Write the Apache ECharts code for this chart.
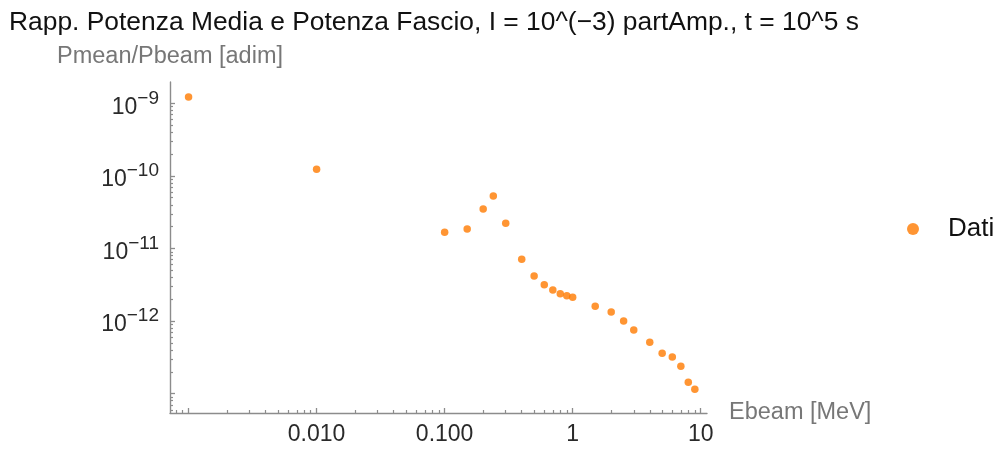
<!DOCTYPE html>
<html>
<head>
<meta charset="utf-8">
<title>Pmean/Pbeam</title>
<script src="https://cdn.jsdelivr.net/npm/echarts@6/dist/echarts.min.js"></script>
<style>
  html, body { margin: 0; padding: 0; background: #fff; }
  #chart { width: 993px; height: 450px; }
</style>
</head>
<body>
<div id="chart"></div>
<script>
// dati
var energy = [0.001, 0.01, 0.1, 0.15, 0.2, 0.24, 0.3, 0.4, 0.5, 0.6, 0.7, 0.8, 0.9, 1,
  1.5, 2, 2.5, 3, 4, 5, 6, 7, 8, 9];
var ratio = [1.22e-9, 1.23e-10, 1.67e-11, 1.86e-11, 3.50e-11, 5.29e-11, 2.22e-11, 7.10e-12,
  4.18e-12, 3.17e-12, 2.68e-12, 2.38e-12, 2.24e-12, 2.13e-12, 1.60e-12, 1.33e-12,
  1.00e-12, 7.54e-13, 5.10e-13, 3.60e-13, 3.21e-13, 2.38e-13, 1.44e-13, 1.15e-13];

// tacche
var xMajor = [0.001, 0.01, 0.1, 1, 10];
var xLabels = [0.01, 0.1, 1, 10];
var yMajor = [1e-9, 1e-10, 1e-11, 1e-12, 1e-13];
var yLabels = [1e-9, 1e-10, 1e-11, 1e-12];

var xMin = 7.16e-4, xMax = 11.2;
var yMin = 5.42e-14, yMax = 1.965e-9;

// minor ticks 2..9 per decade
function minors(decades, lo, hi) {
  var out = [];
  decades.forEach(function (d) {
    for (var k = 2; k <= 9; k++) {
      var v = +(d * k).toPrecision(3);
      if (v >= lo && v <= hi) out.push(v);
    }
  });
  return out;
}
var xMinor = minors([1e-4, 1e-3, 1e-2, 1e-1, 1, 10], xMin, xMax);
var yMinor = minors([1e-14, 1e-13, 1e-12, 1e-11, 1e-10, 1e-9], yMin, yMax);

var font = "'Liberation Sans', Arial, sans-serif";
var axisGray = "#8c8c8c";

var chart = echarts.init(document.getElementById("chart"));

var points = energy.map(function (e, i) { return [e, ratio[i]]; });

function baseAxis(min, max) {
  return {
    type: "log",
    logBase: 10,
    min: min,
    max: max,
    splitLine: { show: false },
    minorTick: { show: false }
  };
}

var xMain = Object.assign(baseAxis(xMin, xMax), {
  position: "bottom",
  name: "Ebeam [MeV]",
  nameLocation: "end",
  nameGap: 22,
  nameTextStyle: { color: "#777", fontSize: 23.5, fontFamily: font },
  axisLine: { lineStyle: { color: axisGray, width: 1.4 } },
  axisTick: { inside: true, length: 5, customValues: xMajor, lineStyle: { color: axisGray, width: 1.3 } },
  axisLabel: {
    customValues: xLabels,
    margin: 10,
    color: "#2a2a2a",
    fontSize: 23,
    fontFamily: font,
    formatter: function (v) { return v < 1 ? v.toFixed(3) : String(Math.round(v)); }
  }
});
var xSub = Object.assign(baseAxis(xMin, xMax), {
  position: "bottom",
  axisLine: { show: false },
  axisTick: { inside: true, length: 3, customValues: xMinor, lineStyle: { color: axisGray, width: 1.2 } },
  axisLabel: { show: false }
});

var yMain = Object.assign(baseAxis(yMin, yMax), {
  position: "left",
  name: "Pmean/Pbeam [adim]",
  nameLocation: "end",
  nameGap: 13,
  nameTextStyle: { color: "#777", fontSize: 23.5, fontFamily: font },
  axisLine: { show: true, lineStyle: { color: axisGray, width: 1.4 } },
  axisTick: { show: true, inside: true, length: 5, customValues: yMajor, lineStyle: { color: axisGray, width: 1.3 } },
  axisLabel: {
    customValues: yLabels,
    margin: 11,
    color: "#2a2a2a",
    fontFamily: font,
    formatter: function (v) {
      var ex = Math.round(Math.log10(v));
      return "{b|10}{e|\u2212" + (-ex) + "}";
    },
    rich: {
      b: { fontSize: 23, fontFamily: font, color: "#2a2a2a", padding: [8, 0, 0, 0] },
      e: { fontSize: 19, fontFamily: font, color: "#2a2a2a", padding: [0, 0, 10, 0] }
    }
  }
});
var ySub = Object.assign(baseAxis(yMin, yMax), {
  position: "left",
  axisLine: { show: false },
  axisTick: { show: true, inside: true, length: 3, customValues: yMinor, lineStyle: { color: axisGray, width: 1.2 } },
  axisLabel: { show: false }
});

chart.setOption({
  animation: false,
  backgroundColor: "#fff",
  title: {
    text: "Rapp. Potenza Media e Potenza Fascio, I = 10^(\u22123) partAmp., t = 10^5 s",
    left: 4,
    top: 5,
    textStyle: { color: "#111", fontSize: 26.4, fontWeight: "normal", fontFamily: font }
  },
  legend: {
    data: ["Dati"],
    left: 902,
    top: 211,
    icon: "circle",
    itemWidth: 12,
    itemHeight: 12,
    textStyle: { color: "#111", fontSize: 26, fontFamily: font, padding: [0, 0, 0, 24] }
  },
  grid: { left: 170, right: 286, top: 82, bottom: 37, containLabel: false },
  xAxis: [xMain, xSub],
  yAxis: [yMain, ySub],
  series: [
    {
      name: "Dati",
      type: "scatter",
      xAxisIndex: 0,
      yAxisIndex: 0,
      symbol: "circle",
      symbolSize: 7.5,
      itemStyle: { color: "#ff7a00" },
      data: points
    }
  ]
});
</script>
</body>
</html>
